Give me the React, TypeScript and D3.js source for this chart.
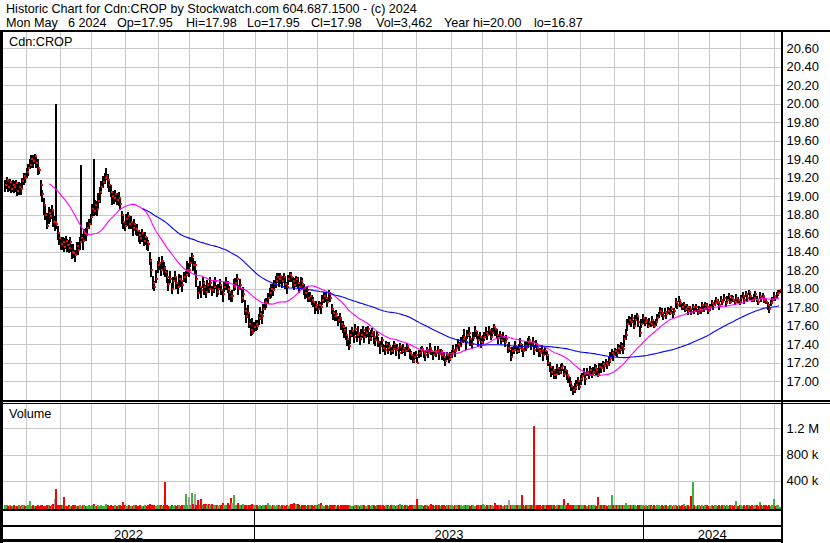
import React from 'react';
import * as d3 from 'd3';

// ---- DATA ----
// trading days per month, May 2022 (partial) .. May 2024 (partial)
const monthLengths = [14, 22, 20, 22, 21, 20, 22, 20, 21, 19, 23, 19, 22, 22, 20, 22, 20, 21, 22, 19, 22, 20, 20, 22, 4];
const yearLabels = ['2022', '2023', '2024'];
const monthsPerYear = [8, 12, 5];
const priceTicks = [17.0, 17.2, 17.4, 17.6, 17.8, 18.0, 18.2, 18.4, 18.6, 18.8, 19.0, 19.2, 19.4, 19.6, 19.8, 20.0, 20.2, 20.4, 20.6];
const volumeTicks = [400, 800, 1200];
const volumeTickLabels = ['400 k', '800 k', '1.2 M'];
const headerLine1 = 'Historic Chart for Cdn:CROP by Stockwatch.com 604.687.1500 - (c) 2024';
const headerFields2 = ['Mon May', '6 2024', 'Op=17.95', 'Hi=17.98', 'Lo=17.95', 'Cl=17.98', 'Vol=3,462', 'Year hi=20.00', 'lo=16.87'];

// daily closes
const closes = [
  // May 2022
  19.12, 19.18, 19.10, 19.15, 19.08, 19.12, 19.10, 19.14, 19.06, 19.10, 19.08, 19.16, 19.22, 19.20,
  // Jun 2022
  19.26, 19.30, 19.34, 19.40, 19.38, 19.44, 19.36, 19.30, 19.28, 19.12, 19.02, 18.90, 18.80, 18.68, 18.82, 18.78, 18.85, 18.72, 18.72, 18.70, 18.60, 18.55,
  // Jul 2022
  18.48, 18.50, 18.45, 18.52, 18.47, 18.44, 18.50, 18.40, 18.38, 18.36, 18.46, 18.42, 18.50, 18.55, 18.52, 18.60, 18.58, 18.66, 18.70, 18.77,
  // Aug 2022
  18.86, 18.84, 18.90, 18.86, 18.95, 19.05, 19.10, 19.15, 19.20, 19.22, 19.18, 19.12, 19.05, 19.00, 18.98, 19.02, 18.96, 18.98, 18.92, 18.80, 18.72, 18.68,
  // Sep 2022
  18.75, 18.78, 18.70, 18.72, 18.66, 18.70, 18.64, 18.62, 18.58, 18.55, 18.60, 18.52, 18.56, 18.50, 18.48, 18.30, 18.20, 18.06, 18.02, 18.10, 18.25,
  // Oct 2022
  18.28, 18.20, 18.30, 18.22, 18.18, 18.12, 18.05, 18.10, 18.00, 18.08, 18.12, 18.06, 18.02, 18.10, 18.08, 18.04, 18.12, 18.15, 18.20, 18.20,
  // Nov 2022
  18.28, 18.35, 18.25, 18.25, 18.10, 17.95, 18.02, 17.98, 18.06, 18.02, 17.96, 18.04, 18.00, 18.06, 17.98, 18.02, 18.08, 17.96, 18.00, 18.04, 17.98, 17.94,
  // Dec 2022
  18.02, 18.06, 18.00, 17.96, 17.92, 17.92, 18.02, 18.06, 18.10, 18.00, 18.04, 17.90, 17.94, 17.76, 17.70, 17.74, 17.62, 17.55, 17.52, 17.58,
  // Jan 2023
  17.62, 17.60, 17.68, 17.72, 17.70, 17.78, 17.85, 17.84, 17.90, 17.95, 18.00, 17.98, 18.05, 18.08, 18.12, 18.10, 18.14, 18.08, 18.12, 18.05, 18.02,
  // Feb 2023
  18.10, 18.15, 18.12, 18.08, 18.04, 18.10, 18.06, 18.02, 18.08, 18.05, 18.00, 17.95, 17.98, 17.90, 17.92, 17.88, 17.85, 17.80, 17.82,
  // Mar 2023
  17.78, 17.82, 17.80, 17.88, 17.92, 17.90, 17.86, 17.94, 17.90, 17.78, 17.74, 17.70, 17.72, 17.66, 17.68, 17.62, 17.58, 17.55, 17.50, 17.45, 17.38, 17.50, 17.54,
  // Apr 2023
  17.48, 17.56, 17.50, 17.52, 17.46, 17.50, 17.55, 17.48, 17.52, 17.56, 17.46, 17.50, 17.53, 17.48, 17.44, 17.50, 17.42, 17.38, 17.44,
  // May 2023
  17.36, 17.34, 17.40, 17.36, 17.38, 17.32, 17.35, 17.40, 17.34, 17.36, 17.30, 17.38, 17.33, 17.36, 17.32, 17.38, 17.35, 17.30, 17.28, 17.22, 17.26, 17.28,
  // Jun 2023
  17.20, 17.30, 17.32, 17.35, 17.30, 17.28, 17.34, 17.30, 17.36, 17.32, 17.28, 17.33, 17.30, 17.34, 17.29, 17.32, 17.28, 17.26, 17.22, 17.28, 17.24, 17.27,
  // Jul 2023
  17.30, 17.34, 17.32, 17.36, 17.40, 17.38, 17.42, 17.45, 17.48, 17.42, 17.50, 17.52, 17.45, 17.40, 17.47, 17.54, 17.50, 17.44, 17.48, 17.42,
  // Aug 2023
  17.46, 17.48, 17.52, 17.50, 17.55, 17.48, 17.52, 17.58, 17.56, 17.50, 17.46, 17.50, 17.44, 17.48, 17.42, 17.45, 17.36, 17.36, 17.26, 17.32, 17.34, 17.38,
  // Sep 2023
  17.33, 17.36, 17.40, 17.35, 17.32, 17.38, 17.36, 17.42, 17.44, 17.38, 17.42, 17.34, 17.40, 17.36, 17.32, 17.30, 17.34, 17.28, 17.32, 17.28,
  // Oct 2023
  17.20, 17.15, 17.10, 17.12, 17.06, 17.08, 17.14, 17.10, 17.14, 17.16, 17.08, 17.12, 17.06, 17.04, 16.98, 16.95, 16.90, 16.92, 16.96, 17.00, 16.94,
  // Nov 2023
  17.02, 17.05, 17.08, 17.02, 17.10, 17.06, 17.12, 17.08, 17.10, 17.14, 17.12, 17.08, 17.15, 17.14, 17.18, 17.16, 17.20, 17.17, 17.22, 17.25, 17.30, 17.28,
  // Dec 2023
  17.32, 17.30, 17.36, 17.34, 17.38, 17.35, 17.45, 17.50, 17.62, 17.66, 17.64, 17.68, 17.60, 17.66, 17.70, 17.64, 17.52, 17.62, 17.68,
  // Jan 2024
  17.64, 17.66, 17.60, 17.64, 17.62, 17.66, 17.60, 17.64, 17.68, 17.72, 17.76, 17.74, 17.70, 17.75, 17.72, 17.76, 17.74, 17.78, 17.72, 17.76, 17.85, 17.82,
  // Feb 2024
  17.88, 17.84, 17.80, 17.82, 17.78, 17.80, 17.76, 17.78, 17.75, 17.80, 17.76, 17.80, 17.74, 17.78, 17.76, 17.82, 17.78, 17.82, 17.80, 17.76,
  // Mar 2024
  17.80, 17.84, 17.82, 17.84, 17.88, 17.85, 17.82, 17.88, 17.86, 17.90, 17.84, 17.88, 17.92, 17.86, 17.90, 17.88, 17.86, 17.90, 17.88, 17.85,
  // Apr 2024
  17.90, 17.92, 17.88, 17.94, 17.90, 17.96, 17.92, 17.88, 17.90, 17.94, 17.88, 17.86, 17.92, 17.90, 17.92, 17.88, 17.86, 17.82, 17.78, 17.84, 17.88, 17.92,
  // May 2024
  17.90, 17.94, 17.95, 17.98,
];

// daily high above close, in cents
const highOffsets = [
  6, 3, 8, 4, 7, 5, 6, 3, 8, 5, 6, 4, 3, 5,
  4, 5, 6, 5, 7, 2, 8, 10, 4, 6, 5, 8, 10, 14, 6, 8, 5, 12, 6, 130, 8, 6,
  8, 6, 10, 5, 7, 9, 6, 8, 10, 6, 4, 8, 6, 79, 7, 5, 8, 6, 5, 4,
  5, 56, 6, 9, 8, 5, 6, 7, 5, 8, 6, 5, 7, 6, 8, 5, 7, 6, 5, 4, 6, 5,
  6, 5, 8, 6, 7, 5, 6, 8, 5, 6, 4, 7, 5, 6, 5, 10, 12, 8, 6, 10, 5,
  6, 8, 5, 7, 6, 8, 5, 9, 6, 5, 7, 8, 5, 6, 7, 5, 6, 4, 10, 8,
  6, 3, 8, 5, 10, 8, 6, 5, 7, 6, 8, 5, 6, 7, 5, 6, 4, 8, 5, 6, 7, 5,
  5, 6, 8, 7, 5, 6, 8, 5, 6, 4, 6, 10, 8, 12, 9, 8, 10, 12, 16, 6,
  4, 6, 5, 8, 6, 5, 4, 6, 5, 6, 5, 7, 4, 6, 5, 7, 3, 6, 5, 7, 5,
  5, 3, 6, 5, 7, 4, 6, 5, 4, 6, 5, 7, 5, 6, 4, 5, 6, 4, 5,
  4, 5, 6, 5, 4, 6, 5, 4, 6, 5, 4, 6, 5, 4, 6, 5, 7, 6, 8, 5, 6, 5, 4,
  5, 6, 4, 7, 5, 6, 4, 5, 6, 4, 7, 5, 4, 6, 5, 4, 6, 5, 4,
  4, 5, 3, 6, 4, 5, 4, 3, 5, 4, 6, 3, 5, 4, 5, 3, 4, 5, 4, 6, 5, 4,
  6, 4, 5, 3, 4, 5, 3, 4, 5, 3, 4, 5, 3, 4, 5, 3, 4, 5, 4, 3, 5, 4,
  4, 5, 3, 4, 5, 4, 6, 5, 8, 4, 5, 6, 4, 5, 6, 5, 4, 6, 5, 4,
  4, 5, 6, 4, 5, 6, 5, 4, 3, 6, 5, 4, 6, 5, 4, 5, 4, 6, 8, 5, 4, 5,
  5, 4, 6, 5, 4, 5, 6, 4, 5, 4, 6, 5, 4, 5, 4, 6, 5, 4, 5, 4,
  8, 6, 5, 4, 6, 5, 4, 5, 4, 3, 5, 4, 6, 4, 6, 5, 5, 6, 5, 4, 6,
  5, 4, 6, 5, 4, 5, 4, 6, 5, 4, 5, 6, 4, 5, 4, 5, 4, 5, 4, 6, 5, 4,
  4, 5, 4, 5, 4, 6, 5, 6, 5, 4, 5, 4, 6, 5, 4, 6, 8, 5, 4,
  4, 3, 5, 4, 3, 4, 5, 3, 4, 3, 4, 5, 3, 4, 3, 4, 5, 3, 4, 3, 5, 3,
  4, 3, 4, 3, 4, 3, 4, 3, 4, 3, 4, 3, 4, 3, 4, 3, 4, 3, 4, 3,
  3, 4, 3, 4, 3, 4, 3, 4, 3, 4, 3, 4, 3, 4, 3, 4, 3, 4, 3, 4,
  3, 4, 3, 3, 4, 3, 4, 3, 4, 3, 4, 3, 4, 3, 3, 4, 3, 4, 3, 4, 3, 4,
  3, 2, 3, 0,
];

// daily low below close, in cents
const lowOffsets = [
  8, 10, 6, 9, 5, 8, 7, 10, 6, 9, 7, 8, 10, 6,
  6, 8, 5, 10, 8, 9, 6, 7, 4, 12, 8, 10, 6, 3, 12, 6, 10, 5, 10, 6, 7, 8,
  6, 8, 5, 9, 7, 6, 10, 8, 5, 7, 9, 6, 8, 6, 10, 8, 7, 9, 6, 8,
  8, 6, 10, 7, 9, 12, 8, 6, 7, 5, 9, 8, 6, 10, 7, 8, 6, 9, 7, 10, 8, 6,
  8, 10, 6, 7, 9, 8, 6, 5, 8, 7, 10, 6, 9, 8, 7, 4, 8, 6, 5, 4, 8,
  8, 6, 10, 7, 5, 6, 8, 4, 6, 7, 5, 6, 8, 7, 6, 8, 5, 9, 6, 7,
  5, 8, 6, 9, 8, 6, 7, 8, 5, 9, 6, 7, 5, 8, 6, 7, 8, 5, 7, 6, 5, 8,
  6, 7, 5, 8, 6, 7, 5, 8, 6, 7, 5, 6, 8, 5, 7, 6, 5, 6, 2, 5,
  8, 5, 7, 6, 8, 6, 8, 5, 7, 6, 10, 6, 8, 7, 6, 8, 9, 7, 6, 5, 8,
  6, 8, 5, 7, 6, 8, 5, 7, 6, 5, 7, 6, 8, 5, 7, 6, 5, 7, 6,
  6, 5, 7, 6, 8, 5, 6, 7, 5, 6, 8, 5, 7, 6, 5, 7, 6, 8, 6, 7, 4, 10, 6,
  7, 6, 8, 5, 7, 6, 9, 7, 5, 8, 6, 7, 5, 8, 6, 7, 5, 9, 6,
  5, 6, 4, 7, 5, 4, 6, 5, 7, 4, 6, 5, 4, 6, 5, 7, 4, 6, 5, 3, 6, 4,
  1, 5, 6, 4, 5, 6, 4, 5, 6, 4, 5, 6, 4, 5, 6, 4, 5, 4, 6, 5, 4, 5,
  5, 4, 6, 5, 4, 6, 5, 4, 6, 8, 5, 4, 7, 5, 4, 6, 5, 7, 4, 6,
  6, 5, 4, 6, 5, 4, 6, 5, 7, 4, 6, 5, 4, 6, 5, 4, 6, 5, 4, 6, 5, 4,
  4, 6, 5, 4, 6, 5, 4, 6, 5, 4, 5, 6, 4, 5, 6, 4, 5, 6, 4, 5,
  4, 5, 6, 5, 4, 6, 5, 4, 6, 5, 4, 6, 5, 6, 5, 6, 5, 5, 6, 5, 4,
  6, 5, 4, 6, 5, 4, 6, 5, 4, 6, 5, 4, 6, 5, 4, 6, 5, 4, 6, 5, 4, 6,
  5, 4, 6, 5, 4, 6, 8, 6, 8, 5, 6, 5, 4, 6, 5, 6, 4, 5, 6,
  5, 4, 3, 5, 4, 6, 3, 4, 5, 4, 3, 5, 4, 3, 5, 4, 3, 5, 4, 3, 6, 4,
  3, 4, 3, 5, 3, 4, 5, 3, 4, 3, 4, 5, 3, 4, 3, 4, 3, 5, 3, 4,
  4, 3, 5, 3, 4, 3, 5, 3, 4, 3, 4, 3, 5, 3, 4, 3, 4, 3, 4, 3,
  4, 3, 5, 3, 4, 3, 4, 3, 4, 5, 3, 4, 3, 4, 3, 4, 3, 5, 4, 3, 4, 3,
  3, 4, 3, 3,
];

// daily volume, thousands of shares
const volumes = [
  30, 25, 18, 35, 22, 15, 28, 20, 12, 26, 18, 24, 30, 22,
  20, 25, 96, 18, 30, 22, 15, 26, 20, 35, 28, 22, 18, 30, 25, 20, 24, 40, 120, 275, 35, 28,
  30, 25, 150, 22, 18, 28, 20, 15, 25, 30, 18, 22, 26, 20, 35, 24, 18, 20, 28, 22,
  25, 45, 20, 18, 30, 22, 26, 15, 20, 45, 24, 18, 28, 22, 20, 25, 18, 30, 24, 22, 70, 26,
  22, 18, 26, 20, 15, 24, 30, 18, 22, 28, 20, 16, 25, 22, 30, 40, 35, 28, 24, 20, 30,
  25, 28, 22, 30, 380, 26, 20, 18, 24, 22, 28, 20, 25, 30, 22, 26, 28, 200, 24, 150,
  35, 215, 40, 200, 30, 105, 35, 120, 28, 40, 45, 35, 42, 38, 40, 30, 25, 28, 22, 30, 26, 60,
  28, 30, 60, 35, 135, 60, 190, 30, 25, 60, 28, 30, 50, 35, 30, 26, 28, 32, 40, 30,
  25, 30, 22, 28, 20, 26, 30, 24, 55, 28, 22, 30, 26, 20, 24, 28, 22, 30, 25, 20, 26,
  22, 28, 50, 45, 55, 40, 48, 26, 22, 30, 25, 28, 20, 24, 30, 26, 22, 28, 25,
  26, 50, 55, 28, 22, 30, 25, 20, 28, 24, 30, 26, 22, 28, 20, 25, 30, 24, 28, 35, 30, 26, 22,
  22, 28, 25, 30, 20, 26, 24, 28, 22, 30, 25, 20, 26, 28, 22, 24, 30, 26, 28,
  25, 22, 30, 26, 20, 28, 24, 30, 22, 26, 28, 50, 24, 20, 26, 30, 22, 28, 25, 30, 26, 24,
  125, 28, 24, 30, 22, 26, 28, 20, 24, 45, 26, 22, 28, 30, 24, 20, 26, 28, 22, 30, 26, 24,
  26, 22, 30, 28, 24, 26, 30, 22, 28, 24, 26, 30, 22, 28, 24, 20, 26, 30, 24, 28,
  40, 26, 22, 28, 30, 24, 26, 22, 60, 28, 24, 30, 26, 22, 28, 24, 30, 105, 28, 26, 30, 24,
  26, 30, 24, 180, 28, 22, 26, 30, 24, 28, 26, 1230, 30, 24, 28, 26, 22, 30, 24, 28,
  30, 26, 28, 24, 30, 22, 28, 26, 30, 24, 120, 28, 26, 60, 30, 24, 35, 28, 26, 30, 24,
  26, 30, 24, 28, 22, 26, 30, 24, 28, 26, 22, 160, 28, 30, 24, 26, 28, 22, 30, 26, 185, 28,
  30, 26, 28, 24, 30, 26, 28, 60, 30, 26, 28, 24, 30, 26, 22, 28, 26, 30, 24,
  22, 26, 20, 24, 28, 22, 26, 20, 24, 30, 22, 26, 20, 24, 28, 22, 26, 30, 22, 24, 26, 20,
  24, 22, 26, 40, 22, 28, 24, 20, 175, 385, 26, 22, 24, 28, 22, 26, 20, 24, 28, 22,
  22, 26, 20, 24, 28, 22, 26, 20, 24, 30, 22, 26, 20, 24, 28, 22, 26, 90, 22, 24,
  24, 22, 26, 20, 24, 28, 22, 26, 20, 24, 28, 22, 75, 26, 20, 24, 28, 22, 26, 20, 24, 125,
  22, 26, 30, 3.462,
];

const maShort = 30;
const maLong = 90;

// ---- LAYOUT ----
const W = 830;
const H = 543;
const PL = 2.5;
const PR = 780.7;
const PRICE_TOP = 32;
const PRICE_BOTTOM = 400.5;
const VOL_TOP = 403.5;
const VOL_BOTTOM = 509.3;
const FONT = '"Liberation Sans", Arial, sans-serif';
// x positions of the header's second-line fields (layout)
const HEADER2_X = [6, 68, 117, 186, 247, 311, 376, 444, 534];

function movingAverage(values: number[], n: number): (number | null)[] {
  return values.map((_, i) => (i < n - 1 ? null : (d3.mean(values.slice(i - n + 1, i + 1)) as number)));
}

const nbsp = (s: string) => s.replace(/ /g, '\u00a0');

export default function App() {
  const n = closes.length;
  const x = d3.scaleLinear().domain([0, n - 1]).range([4, 779]);
  const yP = d3.scaleLinear().domain([17, 20.6]).range([381, 48.3]);
  const yV = d3.scaleLinear().domain([0, 1200]).range([507, 428.3]);

  const highs = closes.map((c, i) => c + highOffsets[i] / 100);
  const lows = closes.map((c, i) => c - lowOffsets[i] / 100);
  const ma1 = movingAverage(closes, maShort);
  const ma2 = movingAverage(closes, maLong);

  const line = d3
    .line<number | null>()
    .defined((d) => d != null)
    .x((_, i) => x(i))
    .y((d) => yP(d as number));

  const monthStarts: number[] = [];
  let acc = 0;
  monthLengths.forEach((m) => {
    monthStarts.push(acc);
    acc += m;
  });
  const gridX = monthStarts.slice(1).map((s) => Math.round(x(s)) + 0.5);

  const yearBounds: number[] = [PL];
  let mAcc = 0;
  monthsPerYear.forEach((m, k) => {
    mAcc += m;
    if (k < monthsPerYear.length - 1) yearBounds.push(x(monthStarts[mAcc]));
  });
  yearBounds.push(PR);

  const gridColor = '#c8c8c8';

  return (
    <svg width={W} height={H} style={{ position: 'absolute', left: 0, top: 0, background: '#fff' }} fontFamily={FONT}>
      <rect x={0} y={0} width={W} height={H} fill="#fff" />
      {/* header */}
      <text x={6} y={13.3} fontSize={12.6} fill="#000">{nbsp(headerLine1)}</text>
      {headerFields2.map((f, k) => (
        <text key={'h2' + k} x={HEADER2_X[k]} y={27.3} fontSize={12.6} fill="#000">{nbsp(f)}</text>
      ))}

      {/* grids */}
      <g shapeRendering="crispEdges">
        {priceTicks.map((t) => (
          <line key={'pg' + t} x1={PL} x2={PR} y1={Math.round(yP(t)) + 0.5} y2={Math.round(yP(t)) + 0.5} stroke={gridColor} strokeWidth={1} />
        ))}
        {gridX.map((gx) => (
          <line key={'pvx' + gx} x1={gx} x2={gx} y1={PRICE_TOP} y2={PRICE_BOTTOM} stroke={gridColor} strokeWidth={1} />
        ))}
        {volumeTicks.map((t) => (
          <line key={'vg' + t} x1={PL} x2={PR} y1={Math.round(yV(t)) + 0.5} y2={Math.round(yV(t)) + 0.5} stroke={gridColor} strokeWidth={1} />
        ))}
        {gridX.map((gx) => (
          <line key={'vvx' + gx} x1={gx} x2={gx} y1={VOL_TOP} y2={VOL_BOTTOM} stroke={gridColor} strokeWidth={1} />
        ))}
      </g>

      <text x={9} y={45.7} fontSize={12.7} fill="#000">Cdn:CROP</text>
      <text x={9} y={418.3} fontSize={12.7} fill="#000">Volume</text>

      {/* price bars */}
      <g shapeRendering="crispEdges">
        {closes.map((c, i) => {
          const px = Math.round(x(i));
          return (
            <rect key={'b' + i} x={px - 0.5} y={yP(highs[i])} width={2} height={Math.max(1, yP(lows[i]) - yP(highs[i]))} fill="#000" />
          );
        })}
        {closes.map((c, i) => {
          const px = Math.round(x(i));
          return <rect key={'c' + i} x={px + 1} y={Math.round(yP(c)) - 1} width={1.5} height={2} fill="#ff0000" />;
        })}
      </g>

      {/* moving averages */}
      <path d={line(ma1) || ''} fill="none" stroke="#ff00ff" strokeWidth={1.1} />
      <path d={line(ma2) || ''} fill="none" stroke="#0000ff" strokeWidth={1.1} />

      {/* volume bars */}
      <g shapeRendering="crispEdges">
        {volumes.map((v, i) => {
          const col = i === 0 ? '#3cb43c' : closes[i] > closes[i - 1] ? '#3cb43c' : closes[i] < closes[i - 1] ? '#ff0000' : '#a0a0a0';
          const top = Math.min(yV(v), VOL_BOTTOM - 1.5);
          return <rect key={'v' + i} x={Math.round(x(i))} y={top} width={2} height={VOL_BOTTOM - top} fill={col} />;
        })}
      </g>

      {/* right axis labels */}
      {priceTicks.map((t) => (
        <text key={'pl' + t} x={786.5} y={yP(t) + 4.6} fontSize={13} fill="#000">{t.toFixed(2)}</text>
      ))}
      {volumeTicks.map((t, k) => (
        <text key={'vl' + t} x={786.5} y={yV(t) + 4.6} fontSize={13} fill="#000">{nbsp(volumeTickLabels[k])}</text>
      ))}

      {/* borders */}
      <g shapeRendering="crispEdges" fill="#000">
        <rect x={0} y={29.5} width={W} height={2.5} />
        <rect x={0} y={29.5} width={2.5} height={513} />
        <rect x={780.7} y={29.5} width={2.6} height={513} />
        <rect x={0} y={400.2} width={W} height={1.3} />
        <rect x={0} y={402.6} width={W} height={1.3} />
        <rect x={0} y={509.3} width={783} height={2} />
        <rect x={0} y={524.7} width={783} height={2} />
        <rect x={0} y={539.3} width={783} height={2.7} />
        {yearBounds.slice(1, -1).map((bx) => (
          <rect key={'ys' + bx} x={bx - 0.8} y={510} width={1.6} height={30} />
        ))}
      </g>

      {/* year labels */}
      {yearLabels.map((lab, k) => (
        <text key={lab} x={(yearBounds[k] + yearBounds[k + 1]) / 2} y={538.6} fontSize={13} textAnchor="middle" fill="#000">{lab}</text>
      ))}
    </svg>
  );
}
